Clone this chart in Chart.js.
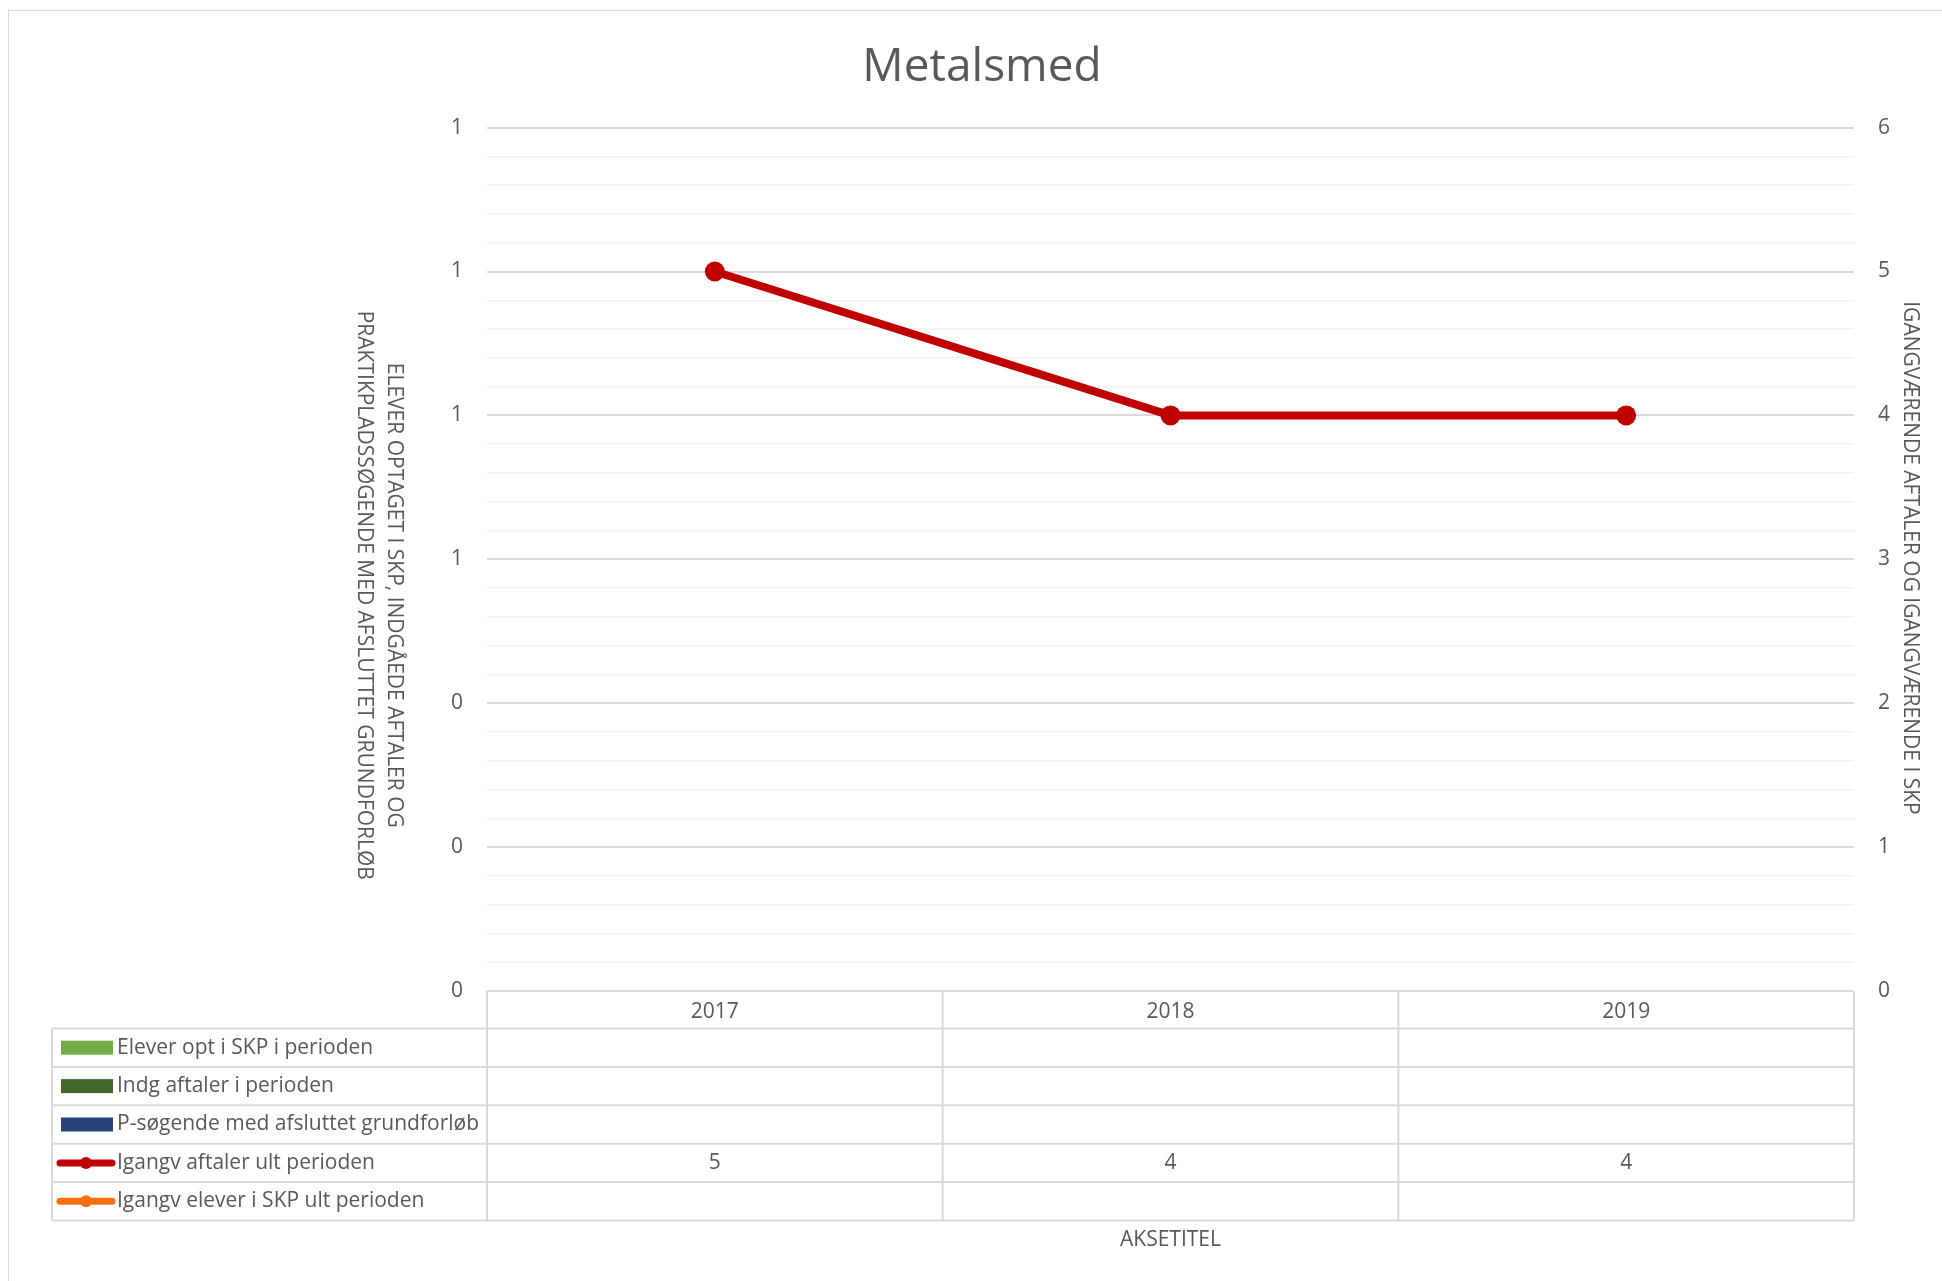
<!DOCTYPE html>
<html><head><meta charset="utf-8">
<script src="https://cdn.jsdelivr.net/npm/chart.js@4/dist/chart.umd.min.js"></script>
<style>html,body{margin:0;padding:0;background:#fff;overflow:hidden;} canvas{display:block;}</style>
</head><body>
<canvas id="c" width="1942" height="1281"></canvas>
<script>
const chartTitle = 'Metalsmed';
const categories = ['2017', '2018', '2019'];
const eleverOpt = [null, null, null];
const indgAftaler = [null, null, null];
const pSoegende = [null, null, null];
const igangvAftaler = [5, 4, 4];
const igangvElever = [null, null, null];
const seriesNames = ['Elever opt i SKP i perioden', 'Indg aftaler i perioden', 'P-søgende med afsluttet grundforløb', 'Igangv aftaler ult perioden', 'Igangv elever i SKP ult perioden'];
const seriesColors = ['#70AD47', '#43682B', '#264478', '#C00000', '#FF7010'];
const leftTickLabels = ['0', '0', '0', '1', '1', '1', '1'];
const rightTickLabels = ['0', '1', '2', '3', '4', '5', '6'];
const leftAxisTitle = ['ELEVER OPTAGET I SKP, INDGÅEDE AFTALER OG', 'PRAKTIKPLADSSØGENDE MED AFSLUTTET GRUNDFORLØB'];
const rightAxisTitle = 'IGANGVÆRENDE AFTALER OG IGANGVÆRENDE I SKP';
const xAxisTitle = 'AKSETITEL';

const FONT = "'Open Sans', 'Noto Sans', sans-serif";
const TXT = '#595959';
const GRID_MAJOR = '#D9D9D9';
const GRID_MINOR = '#F2F2F2';

const extrasPlugin = {
  id: 'extras',
  beforeDraw(chart) {
    const ctx = chart.ctx;
    ctx.save();
    ctx.fillStyle = '#fff';
    ctx.fillRect(0, 0, chart.width, chart.height);
    ctx.strokeStyle = GRID_MAJOR;
    ctx.lineWidth = 1;
    ctx.beginPath();
    ctx.moveTo(8.5, chart.height);
    ctx.lineTo(8.5, 10.5);
    ctx.lineTo(chart.width, 10.5);
    ctx.stroke();
    ctx.restore();
  },
  afterDraw(chart) {
    const ctx = chart.ctx;
    const area = chart.chartArea;
    const xs = chart.scales.x;
    const n = categories.length;
    const cw = (area.right - area.left) / n;
    const headTop = area.bottom;
    const rowsTop = headTop + 37.5;
    const rowH = 38.4;
    const tableLeft = 52;
    const nRows = chart.data.datasets.length;
    const tableBottom = rowsTop + rowH * nRows;

    ctx.save();
    ctx.strokeStyle = GRID_MAJOR;
    ctx.lineWidth = 2;
    ctx.beginPath();
    ctx.moveTo(area.left, headTop); ctx.lineTo(area.right, headTop);
    for (let r = 0; r <= nRows; r++) {
      const y = rowsTop + r * rowH;
      ctx.moveTo(tableLeft, y); ctx.lineTo(area.right, y);
    }
    ctx.moveTo(tableLeft, rowsTop); ctx.lineTo(tableLeft, tableBottom);
    for (let c = 0; c <= n; c++) {
      const x = area.left + c * cw;
      ctx.moveTo(x, headTop); ctx.lineTo(x, tableBottom);
    }
    ctx.stroke();

    ctx.textBaseline = 'middle';
    chart.data.datasets.forEach((ds, i) => {
      const cy = rowsTop + rowH * i + rowH / 2;
      if (ds.type === 'line') {
        ctx.strokeStyle = ds.borderColor;
        ctx.lineWidth = 7;
        ctx.lineCap = 'round';
        ctx.beginPath();
        ctx.moveTo(60, cy); ctx.lineTo(112, cy);
        ctx.stroke();
        ctx.fillStyle = ds.borderColor;
        ctx.beginPath();
        ctx.arc(86, cy, 6, 0, Math.PI * 2);
        ctx.fill();
      } else {
        ctx.fillStyle = ds.backgroundColor;
        ctx.fillRect(61, cy - 7, 52, 14);
      }
      ctx.fillStyle = TXT;
      ctx.font = '21px ' + FONT;
      ctx.textAlign = 'left';
      ctx.fillText(ds.label, 117, cy);
      ctx.textAlign = 'center';
      ds.data.forEach((v, j) => {
        if (v !== null && v !== undefined) {
          ctx.fillText(String(v), xs.getPixelForValue(j), cy);
        }
      });
    });

    ctx.fillStyle = TXT;
    ctx.font = '21px ' + FONT;
    ctx.textAlign = 'center';
    ctx.fillText(xAxisTitle, (area.left + area.right) / 2, 1240);

    ctx.font = '21px ' + FONT;
    ctx.save();
    ctx.translate(394, (area.top + area.bottom) / 2 + 36);
    ctx.rotate(Math.PI / 2);
    ctx.fillText(leftAxisTitle[0], 0, 0);
    ctx.fillText(leftAxisTitle[1], 0, 30);
    ctx.restore();

    ctx.save();
    ctx.translate(1910, 558);
    ctx.rotate(Math.PI / 2);
    ctx.fillText(rightAxisTitle, 0, 0);
    ctx.restore();

    ctx.restore();
  }
};

const chart = new Chart(document.getElementById('c'), {
  data: {
    labels: categories,
    datasets: [
      { type: 'bar', label: seriesNames[0], data: eleverOpt, backgroundColor: seriesColors[0], yAxisID: 'y', order: 3 },
      { type: 'bar', label: seriesNames[1], data: indgAftaler, backgroundColor: seriesColors[1], yAxisID: 'y', order: 3 },
      { type: 'bar', label: seriesNames[2], data: pSoegende, backgroundColor: seriesColors[2], yAxisID: 'y', order: 3 },
      { type: 'line', label: seriesNames[3], data: igangvAftaler, borderColor: seriesColors[3], backgroundColor: seriesColors[3],
        borderWidth: 8, pointRadius: 10, pointBackgroundColor: seriesColors[3], pointBorderWidth: 0, yAxisID: 'y1', order: 1, tension: 0 },
      { type: 'line', label: seriesNames[4], data: igangvElever, borderColor: seriesColors[4], backgroundColor: seriesColors[4],
        borderWidth: 8, pointRadius: 10, pointBackgroundColor: seriesColors[4], pointBorderWidth: 0, yAxisID: 'y1', order: 1, tension: 0 }
    ]
  },
  options: {
    responsive: false,
    animation: false,
    devicePixelRatio: 1,
    layout: { padding: { left: 22, right: 0, top: 10, bottom: 0 } },
    plugins: {
      legend: { display: false },
      tooltip: { enabled: false },
      title: {
        display: true, text: chartTitle, color: TXT,
        font: { family: FONT, size: 46, weight: 'normal', lineHeight: 1.2 },
        padding: { top: 30.4, bottom: 32 }
      }
    },
    scales: {
      x: {
        type: 'category', offset: true, position: 'bottom',
        grid: { display: false }, border: { display: false },
        ticks: { color: TXT, font: { family: FONT, size: 21 }, padding: 0, maxRotation: 0 },
        afterFit(s) { s.height = 290; }
      },
      y: {
        type: 'linear', position: 'left', min: 0, max: 1.2,
        grid: { display: false }, border: { display: false },
        ticks: { stepSize: 0.2, color: TXT, font: { family: FONT, size: 21 }, padding: 16, autoSkip: false,
          callback: (v, i) => leftTickLabels[i] },
        afterFit(s) { s.width = 465; }
      },
      y1: {
        type: 'linear', position: 'right', min: 0, max: 6,
        border: { display: false },
        grid: {
          drawTicks: false,
          color: (c) => (c.index % 5 === 0 ? GRID_MAJOR : GRID_MINOR),
          lineWidth: (c) => (c.index % 5 === 0 ? 2 : 1.5)
        },
        ticks: { stepSize: 0.2, color: TXT, font: { family: FONT, size: 21 }, padding: 24, autoSkip: false,
          callback: (v, i) => (i % 5 === 0 ? rightTickLabels[i / 5] : '') },
        afterFit(s) { s.width = 88; }
      }
    }
  },
  plugins: [extrasPlugin]
});
</script>
</body></html>
